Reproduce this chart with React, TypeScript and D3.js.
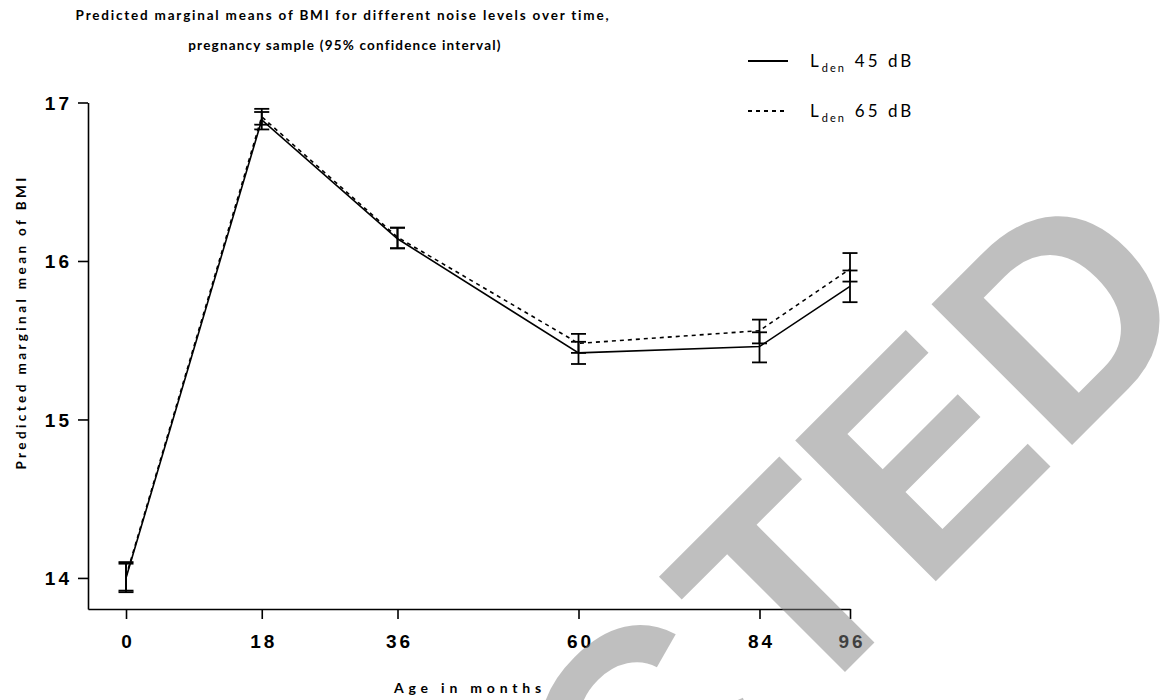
import React, { useEffect, useRef } from "react";
import * as d3 from "d3";

const months = [0, 18, 36, 60, 84, 96];
const mean45 = [14.0, 16.89, 16.14, 15.42, 15.46, 15.84];
const lo45 = [13.91, 16.83, 16.08, 15.35, 15.36, 15.74];
const hi45 = [14.09, 16.94, 16.21, 15.49, 15.55, 15.94];
const mean65 = [14.01, 16.91, 16.15, 15.48, 15.56, 15.95];
const lo65 = [13.92, 16.86, 16.08, 15.42, 15.48, 15.87];
const hi65 = [14.1, 16.96, 16.21, 15.54, 15.63, 16.05];
const xTicks = [0, 18, 36, 60, 84, 96];
const yTicks = [14, 15, 16, 17];
const seriesNames = ["45 dB", "65 dB"];

const W = 1161;
const H = 700;

export default function App() {
  const ref = useRef<SVGSVGElement>(null);

  useEffect(() => {
    const svg = d3.select(ref.current);
    svg.selectAll("*").remove();

    const x = d3.scaleLinear().domain([-5.04, 96]).range([88, 850]);
    const y = d3.scaleLinear().domain([13.804, 17]).range([609, 102.5]);

    const calibri = "Lato, 'Open Sans', sans-serif";
    const arial = "'Liberation Sans', Arial, sans-serif";

    // Title
    const title = svg
      .append("text")
      .attr("text-anchor", "middle")
      .attr("font-family", calibri)
      .attr("font-weight", "bold")
      .attr("font-size", 13.5)
      .attr("fill", "#000");
    title
      .append("tspan")
      .attr("x", 343)
      .attr("y", 20)
      .attr("letter-spacing", 1.8)
      .text("Predicted marginal means of BMI for different noise levels over time,");
    title
      .append("tspan")
      .attr("x", 345)
      .attr("y", 50)
      .attr("letter-spacing", 1.2)
      .text("pregnancy sample (95% confidence interval)");

    // Axes
    const xAxis = d3
      .axisBottom(x)
      .tickValues(xTicks)
      .tickSize(10)
      .tickSizeOuter(0)
      .tickPadding(16)
      .tickFormat((d) => String(d));
    const gx = svg.append("g").attr("transform", "translate(0,609)").call(xAxis);
    const yAxis = d3
      .axisLeft(y)
      .tickValues(yTicks)
      .tickSize(10)
      .tickSizeOuter(0)
      .tickPadding(6)
      .tickFormat((d) => String(d));
    const gy = svg.append("g").attr("transform", "translate(88,0)").call(yAxis);

    [gx, gy].forEach((g) => {
      g.select(".domain").attr("stroke", "#000").attr("stroke-width", 1.6);
      g.selectAll(".tick line").attr("stroke", "#000").attr("stroke-width", 1.6);
      g.selectAll(".tick text")
        .attr("font-family", arial)
        .attr("font-weight", "bold")
        .attr("font-size", 19)
        .attr("letter-spacing", 3)
        .attr("fill", "#000");
    });
    gx.selectAll(".tick text").attr("dy", "0.71em").attr("dx", 1.5);
    gy.selectAll(".tick text").attr("dy", "0.36em");

    // Axis titles
    svg
      .append("text")
      .attr("x", 470)
      .attr("y", 693)
      .attr("text-anchor", "middle")
      .attr("font-family", calibri)
      .attr("font-weight", "bold")
      .attr("font-size", 14)
      .attr("letter-spacing", 4.8)
      .text("Age in months");
    svg
      .append("text")
      .attr("transform", "translate(26,322) rotate(-90)")
      .attr("text-anchor", "middle")
      .attr("font-family", calibri)
      .attr("font-weight", "bold")
      .attr("font-size", 13.5)
      .attr("letter-spacing", 3.4)
      .text("Predicted marginal mean of BMI");

    const series = [
      { mean: mean45, lo: lo45, hi: hi45, dash: null },
      { mean: mean65, lo: lo65, hi: hi65, dash: "4,4" },
    ];

    const line = d3
      .line<number>()
      .x((_, i) => x(months[i]))
      .y((d) => y(d));

    series.forEach((s) => {
      const path = svg
        .append("path")
        .datum(s.mean)
        .attr("d", line)
        .attr("fill", "none")
        .attr("stroke", "#000")
        .attr("stroke-width", 1.6);
      if (s.dash) path.attr("stroke-dasharray", s.dash);

      const g = svg.append("g").attr("stroke", "#000").attr("stroke-width", 1.8);
      months.forEach((m, i) => {
        const cx = x(m);
        g.append("line").attr("x1", cx).attr("x2", cx).attr("y1", y(s.lo[i])).attr("y2", y(s.hi[i]));
        g.append("line").attr("x1", cx - 7.5).attr("x2", cx + 7.5).attr("y1", y(s.lo[i])).attr("y2", y(s.lo[i]));
        g.append("line").attr("x1", cx - 7.5).attr("x2", cx + 7.5).attr("y1", y(s.hi[i])).attr("y2", y(s.hi[i]));
      });
    });

    // Legend
    seriesNames.forEach((name, i) => {
      const ly = 61 + i * 50;
      const l = svg
        .append("line")
        .attr("x1", 748)
        .attr("x2", 788)
        .attr("y1", ly)
        .attr("y2", ly)
        .attr("stroke", "#000")
        .attr("stroke-width", 1.8);
      if (series[i].dash) l.attr("stroke-dasharray", "4,4");
      const t = svg
        .append("text")
        .attr("x", 810)
        .attr("y", ly + 6)
        .attr("font-family", calibri)
        .attr("font-size", 17)
        .attr("letter-spacing", 3)
        .attr("fill", "#000");
      t.append("tspan").text("L");
      t.append("tspan").attr("font-size", 11).attr("dy", 5).attr("letter-spacing", 2).text("den");
      t.append("tspan").attr("dy", -5).attr("dx", 9).text(name);
    });

    // Watermark
    const wm = svg
      .append("text")
      .attr("x", 1206)
      .attr("y", 311)
      .attr("transform", "rotate(-45 1206 311)")
      .attr("text-anchor", "end")
      .attr("font-family", arial)
      .attr("font-weight", "bold")
      .attr("font-size", 289)
      .attr("fill", "#808080")
      .attr("fill-opacity", 0.5);
    wm.append("tspan").text("REDAC");
    wm.append("tspan").attr("dx", 15).text("TED");
  }, []);

  return (
    <svg
      ref={ref}
      width={W}
      height={H}
      style={{ position: "absolute", left: 0, top: 0, background: "#fff", display: "block" }}
    />
  );
}
